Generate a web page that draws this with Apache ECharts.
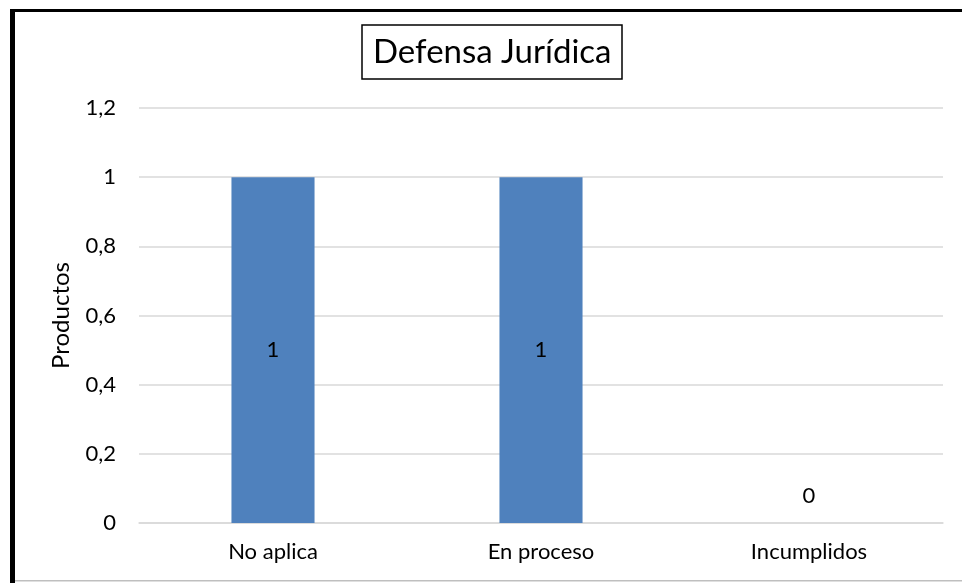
<!DOCTYPE html>
<html>
<head>
<meta charset="utf-8">
<script src="https://cdn.jsdelivr.net/npm/echarts@6/dist/echarts.min.js"></script>
<style>
  html, body { margin: 0; padding: 0; background: #fff; }
  #chart { width: 962px; height: 583px; }
</style>
</head>
<body>
<div id="chart"></div>
<script>
// Product status counts for the legal defence area
const categories = ['No aplica', 'En proceso', 'Incumplidos'];
const productCounts = [1, 1, 0];
const yTicks = { min: 0, max: 1.2, step: 0.2 };

const FONT = 'Lato, "Open Sans", sans-serif';

const chart = echarts.init(document.getElementById('chart'), null, { renderer: 'canvas' });

const seriesData = productCounts.map(v => ({
  value: v,
  label: v === 0 ? { position: 'top', distance: 16 } : { position: 'inside' }
}));

chart.setOption({
  backgroundColor: '#ffffff',
  animation: false,
  title: {
    text: 'Defensa Jurídica',
    left: 362,
    top: 25,
    padding: [10, 11, 10, 11],
    borderColor: '#000000',
    borderWidth: 1.5,
    textStyle: { fontFamily: FONT, fontSize: 33, fontWeight: 'normal', color: '#000', lineHeight: 34 }
  },
  grid: { left: 139, right: 19, top: 108, bottom: 60, containLabel: false },
  xAxis: {
    type: 'category',
    data: categories,
    axisLine: { show: true, lineStyle: { color: '#D9D9D9', width: 1.5 } },
    axisTick: { show: false },
    axisLabel: { color: '#000', fontFamily: FONT, fontSize: 22, margin: 18 }
  },
  yAxis: {
    type: 'value',
    min: yTicks.min,
    max: yTicks.max,
    interval: yTicks.step,
    name: 'Productos',
    nameLocation: 'middle',
    nameGap: 66,
    nameTextStyle: { color: '#000', fontFamily: FONT, fontSize: 24 },
    axisLine: { show: false },
    axisTick: { show: false },
    splitLine: { lineStyle: { color: '#D9D9D9', width: 1.5 } },
    axisLabel: {
      color: '#000', fontFamily: FONT, fontSize: 22, margin: 23,
      formatter: v => String(Number(v.toFixed(1))).replace('.', ',')
    }
  },
  series: [{
    type: 'bar',
    data: seriesData,
    barWidth: '31%',
    itemStyle: { color: '#4F81BD' },
    label: { show: true, color: '#000', fontFamily: FONT, fontSize: 22 }
  }],
  graphic: [
    { type: 'rect', shape: { x: 10, y: 9, width: 5, height: 574 }, style: { fill: '#000' }, silent: true },
    { type: 'rect', shape: { x: 10, y: 9, width: 952, height: 3 }, style: { fill: '#000' }, silent: true },
    { type: 'rect', shape: { x: 15, y: 580, width: 947, height: 1.5 }, style: { fill: '#BFBFBF' }, silent: true }
  ]
});
</script>
</body>
</html>
